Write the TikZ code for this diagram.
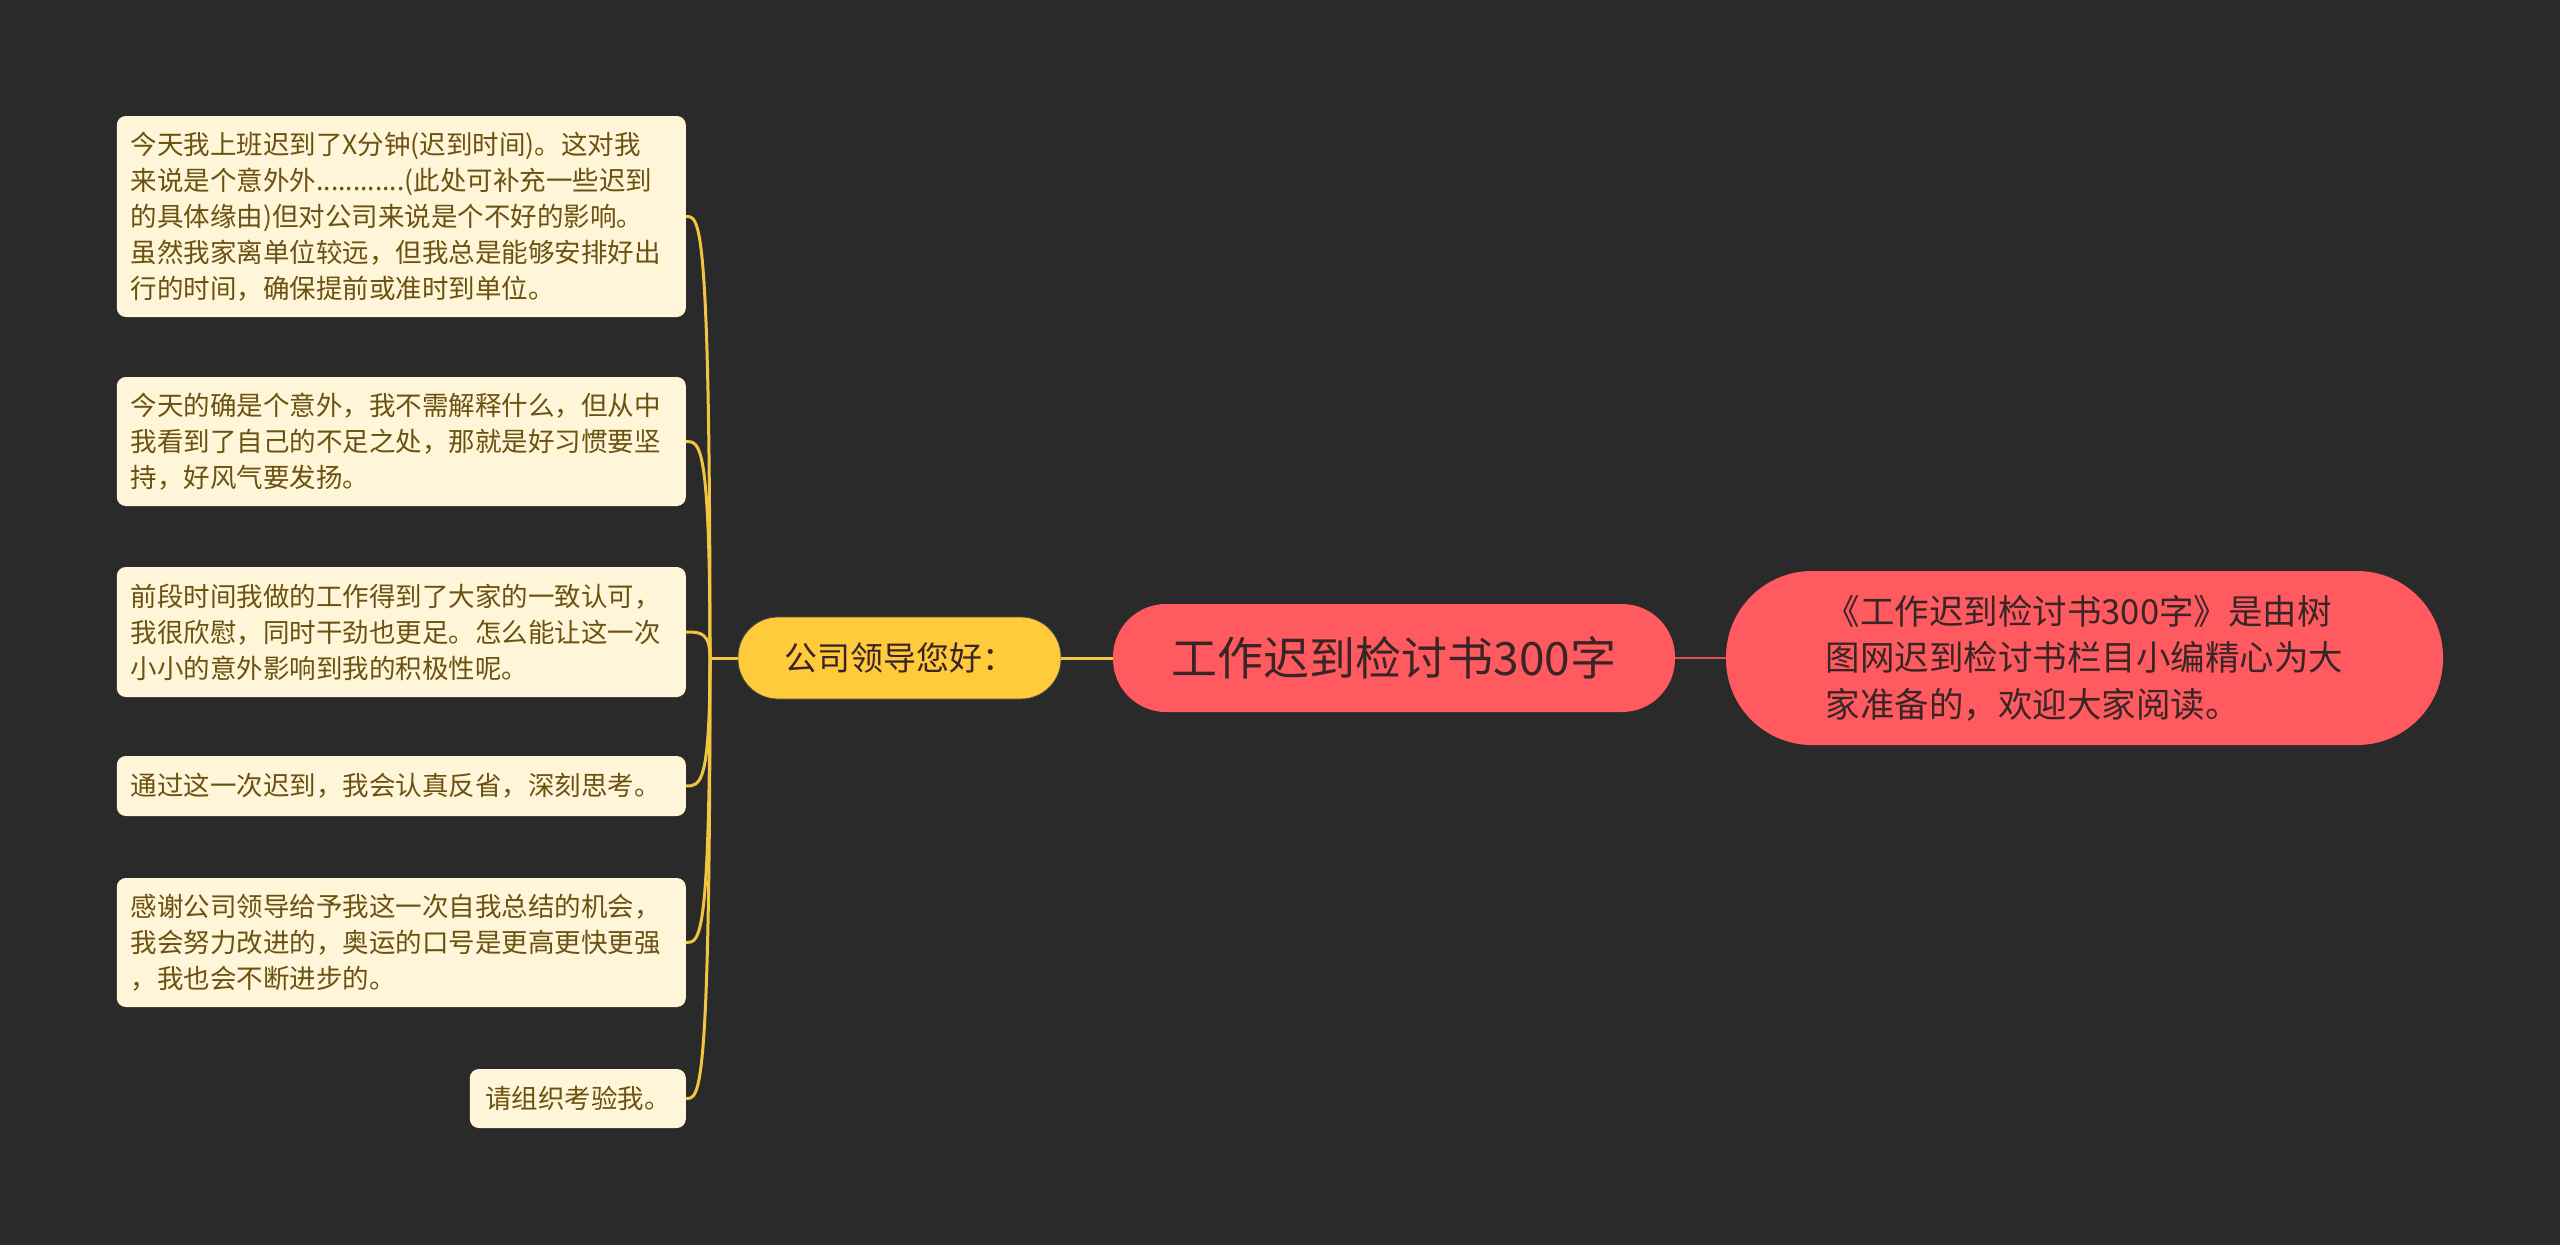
\documentclass[tikz,border=0pt]{standalone}
\usepackage{fontspec}
\setmainfont{Noto Sans CJK SC}
\definecolor{bg}{HTML}{2A2A2A}
\definecolor{leaffill}{HTML}{FFF5D8}
\definecolor{leaftext}{HTML}{6B5210}
\definecolor{yfill}{HTML}{FFCB3B}
\definecolor{yline}{HTML}{F2C541}
\definecolor{rfill}{HTML}{FF5A5F}
\definecolor{rtext}{HTML}{3A2526}
\definecolor{rline}{HTML}{E24E55}
\begin{document}
\begin{tikzpicture}[x=1pt,y=-1pt,
  leaf/.style={rectangle, rounded corners=9pt, fill=leaffill, text=leaftext,
    font=\fontsize{26.5}{36}\selectfont, align=left, inner xsep=14pt, inner ysep=0pt, anchor=east},
  wideleaf/.style={leaf, text width=541pt},
  leadbox/.style={rectangle, rounded corners=40pt, fill=yfill, text=rtext, draw=black!70, line width=0.8pt,
    font=\fontsize{33}{38}\selectfont, minimum width=323pt, minimum height=82pt, inner sep=0pt},
  titlebox/.style={rectangle, rounded corners=53pt, fill=rfill, text=rtext,
    font=\fontsize{46}{54}\selectfont, minimum width=562pt, minimum height=108pt, inner sep=0pt},
  notebox/.style={rectangle, rounded corners=86pt, fill=rfill, text=rtext, align=left,
    font=\fontsize{34.5}{46.5}\selectfont, minimum width=717pt, minimum height=174pt, inner sep=0pt},
  yconn/.style={draw=yline, line width=3pt},
  rconn/.style={draw=rline, line width=2.6pt}
]
\useasboundingbox[fill=bg] (0,0) rectangle (2560,1245);

\node[wideleaf, minimum height=201pt] (b1) at (686,216.5) {今天我上班迟到了X分钟(迟到时间)。这对我\\来说是个意外外............(此处可补充一些迟到\\的具体缘由)但对公司来说是个不好的影响。\\虽然我家离单位较远，但我总是能够安排好出\\行的时间，确保提前或准时到单位。};
\node[wideleaf, minimum height=129pt] (b2) at (686,441.5) {今天的确是个意外，我不需解释什么，但从中\\我看到了自己的不足之处，那就是好习惯要坚\\持，好风气要发扬。};
\node[wideleaf, minimum height=130pt] (b3) at (686,632) {前段时间我做的工作得到了大家的一致认可，\\我很欣慰，同时干劲也更足。怎么能让这一次\\小小的意外影响到我的积极性呢。};
\node[wideleaf, minimum height=60pt] (b4) at (686,786) {通过这一次迟到，我会认真反省，深刻思考。};
\node[wideleaf, minimum height=129pt] (b5) at (686,942.5) {感谢公司领导给予我这一次自我总结的机会，\\我会努力改进的，奥运的口号是更高更快更强\\，我也会不断进步的。};
\node[leaf, minimum height=59pt, minimum width=216pt] (b6) at (686,1098.5) {请组织考验我。};

\node[leadbox] (lead) at (899.5,658) {公司领导您好：};
\node[titlebox] (title) at (1394,658) {工作迟到检讨书300字};
\node[notebox] (note) at (2084.5,658) {《工作迟到检讨书300字》是由树\\图网迟到检讨书栏目小编精心为大\\家准备的，欢迎大家阅读。};

\draw[yconn] (lead.east) -- (title.west);
\draw[rconn] (title.east) -- (note.west);

\coordinate (trunk) at (710,658);
\draw[yconn] (lead.west) -- (trunk);
\foreach \b in {b1,b2,b3,b4,b5,b6}{
  \draw[yconn] (trunk) .. controls (trunk |- \b.east) and +(14,0) .. (\b.east);
}
\end{tikzpicture}
\end{document}
